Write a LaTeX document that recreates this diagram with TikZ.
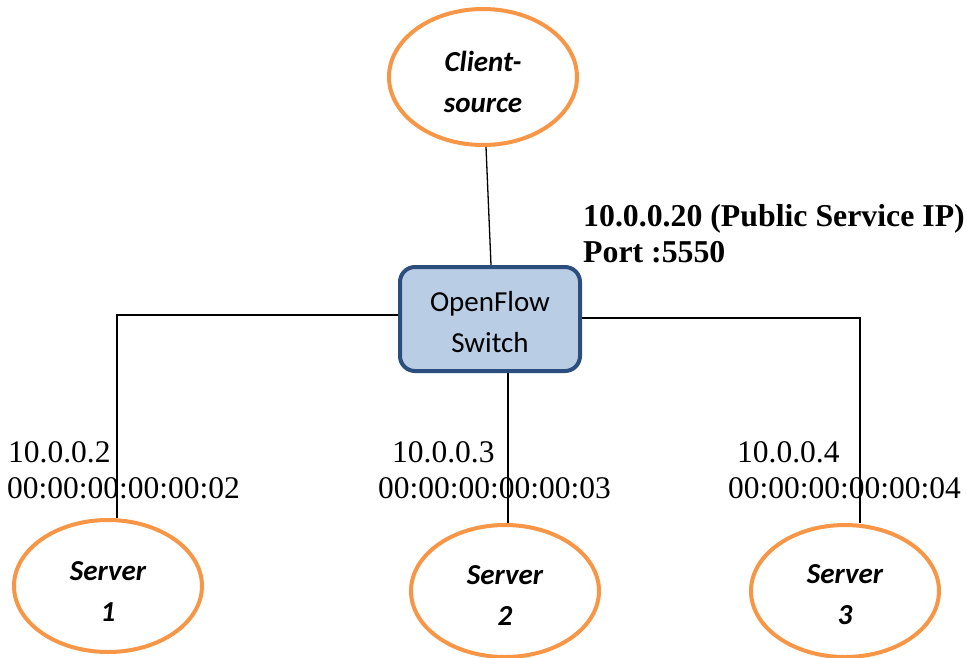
\documentclass[tikz,border=0pt]{standalone}
\usepackage{fontspec}
\setmainfont{Liberation Serif}
\newfontfamily\carlito{Carlito}
\usetikzlibrary{shapes.geometric}
\definecolor{nodeorange}{HTML}{F79646}
\definecolor{swfill}{HTML}{B9CDE5}
\definecolor{swline}{HTML}{2C4E7E}
\tikzset{
  hostnode/.style={ellipse, draw=nodeorange, line width=4pt, fill=white,
    minimum width=188pt, minimum height=132pt, inner sep=0pt},
  hosttext/.style={inner sep=0pt, align=center,
    font=\carlito\bfseries\itshape\fontsize{29}{41}\selectfont},
  switchnode/.style={rectangle, rounded corners=15pt, draw=swline, fill=swfill,
    line width=4pt, minimum width=180pt, minimum height=104pt, inner sep=0pt},
  switchtext/.style={inner sep=0pt, align=center,
    font=\carlito\fontsize{29}{41}\selectfont},
  link/.style={draw=black, line width=1.3pt},
  addr/.style={anchor=base west, inner sep=0pt, font=\fontsize{31.5}{36}\selectfont},
  pubaddr/.style={anchor=base west, inner sep=0pt, align=left,
    font=\bfseries\fontsize{31.8}{36}\selectfont}
}
\begin{document}
\begin{tikzpicture}[x=1pt, y=-1pt]
\useasboundingbox (0,0) rectangle (967,657);

% hosts and switch
\node[hostnode, minimum height=136pt] (client) at (483,77) {};
\node[hosttext] (clientlbl) at ([yshift=-5pt]client.center) {Client-\\source};
\node[switchnode] (sw) at (490,319) {};
\node[switchtext] (swlbl) at ([yshift=-3pt]sw.center) {OpenFlow\\Switch};
\node[hostnode] (s1) at (108,586) {};
\node[hosttext] (s1lbl) at ([yshift=-5pt]s1.center) {Server\\1};
\node[hostnode] (s2) at (505,591) {};
\node[hosttext] (s2lbl) at ([yshift=-4pt]s2.center) {Server\\2};
\node[hostnode] (s3) at (845,591) {};
\node[hosttext] (s3lbl) at ([yshift=-4pt]s3.center) {Server\\3};

% links
\draw[link] ([xshift=3pt]client.south) -- ([xshift=1pt]sw.north);
\draw[link] ([yshift=4pt]sw.west) -| ([xshift=9pt]s1.north);
\draw[link] ([xshift=18pt]sw.south) -- ([xshift=3pt]s2.north);
\draw[link] ([yshift=1pt]sw.east) -| ([xshift=15pt]s3.north);

% public service address (base anchor sits on the last line)
\node[pubaddr] (pub) at (583,262) {10.0.0.20 (Public Service IP)\\Port :5550};

% server addresses
\node[addr] (ip1) at (8,462) {10.0.0.2};
\node[addr] (mac1) at (7,498) {00:00:00:00:00:02};
\node[addr] (ip2) at (392,462) {10.0.0.3};
\node[addr] (mac2) at (378,498) {00:00:00:00:00:03};
\node[addr] (ip3) at (737,462) {10.0.0.4};
\node[addr] (mac3) at (728,498) {00:00:00:00:00:04};
\end{tikzpicture}
\end{document}
